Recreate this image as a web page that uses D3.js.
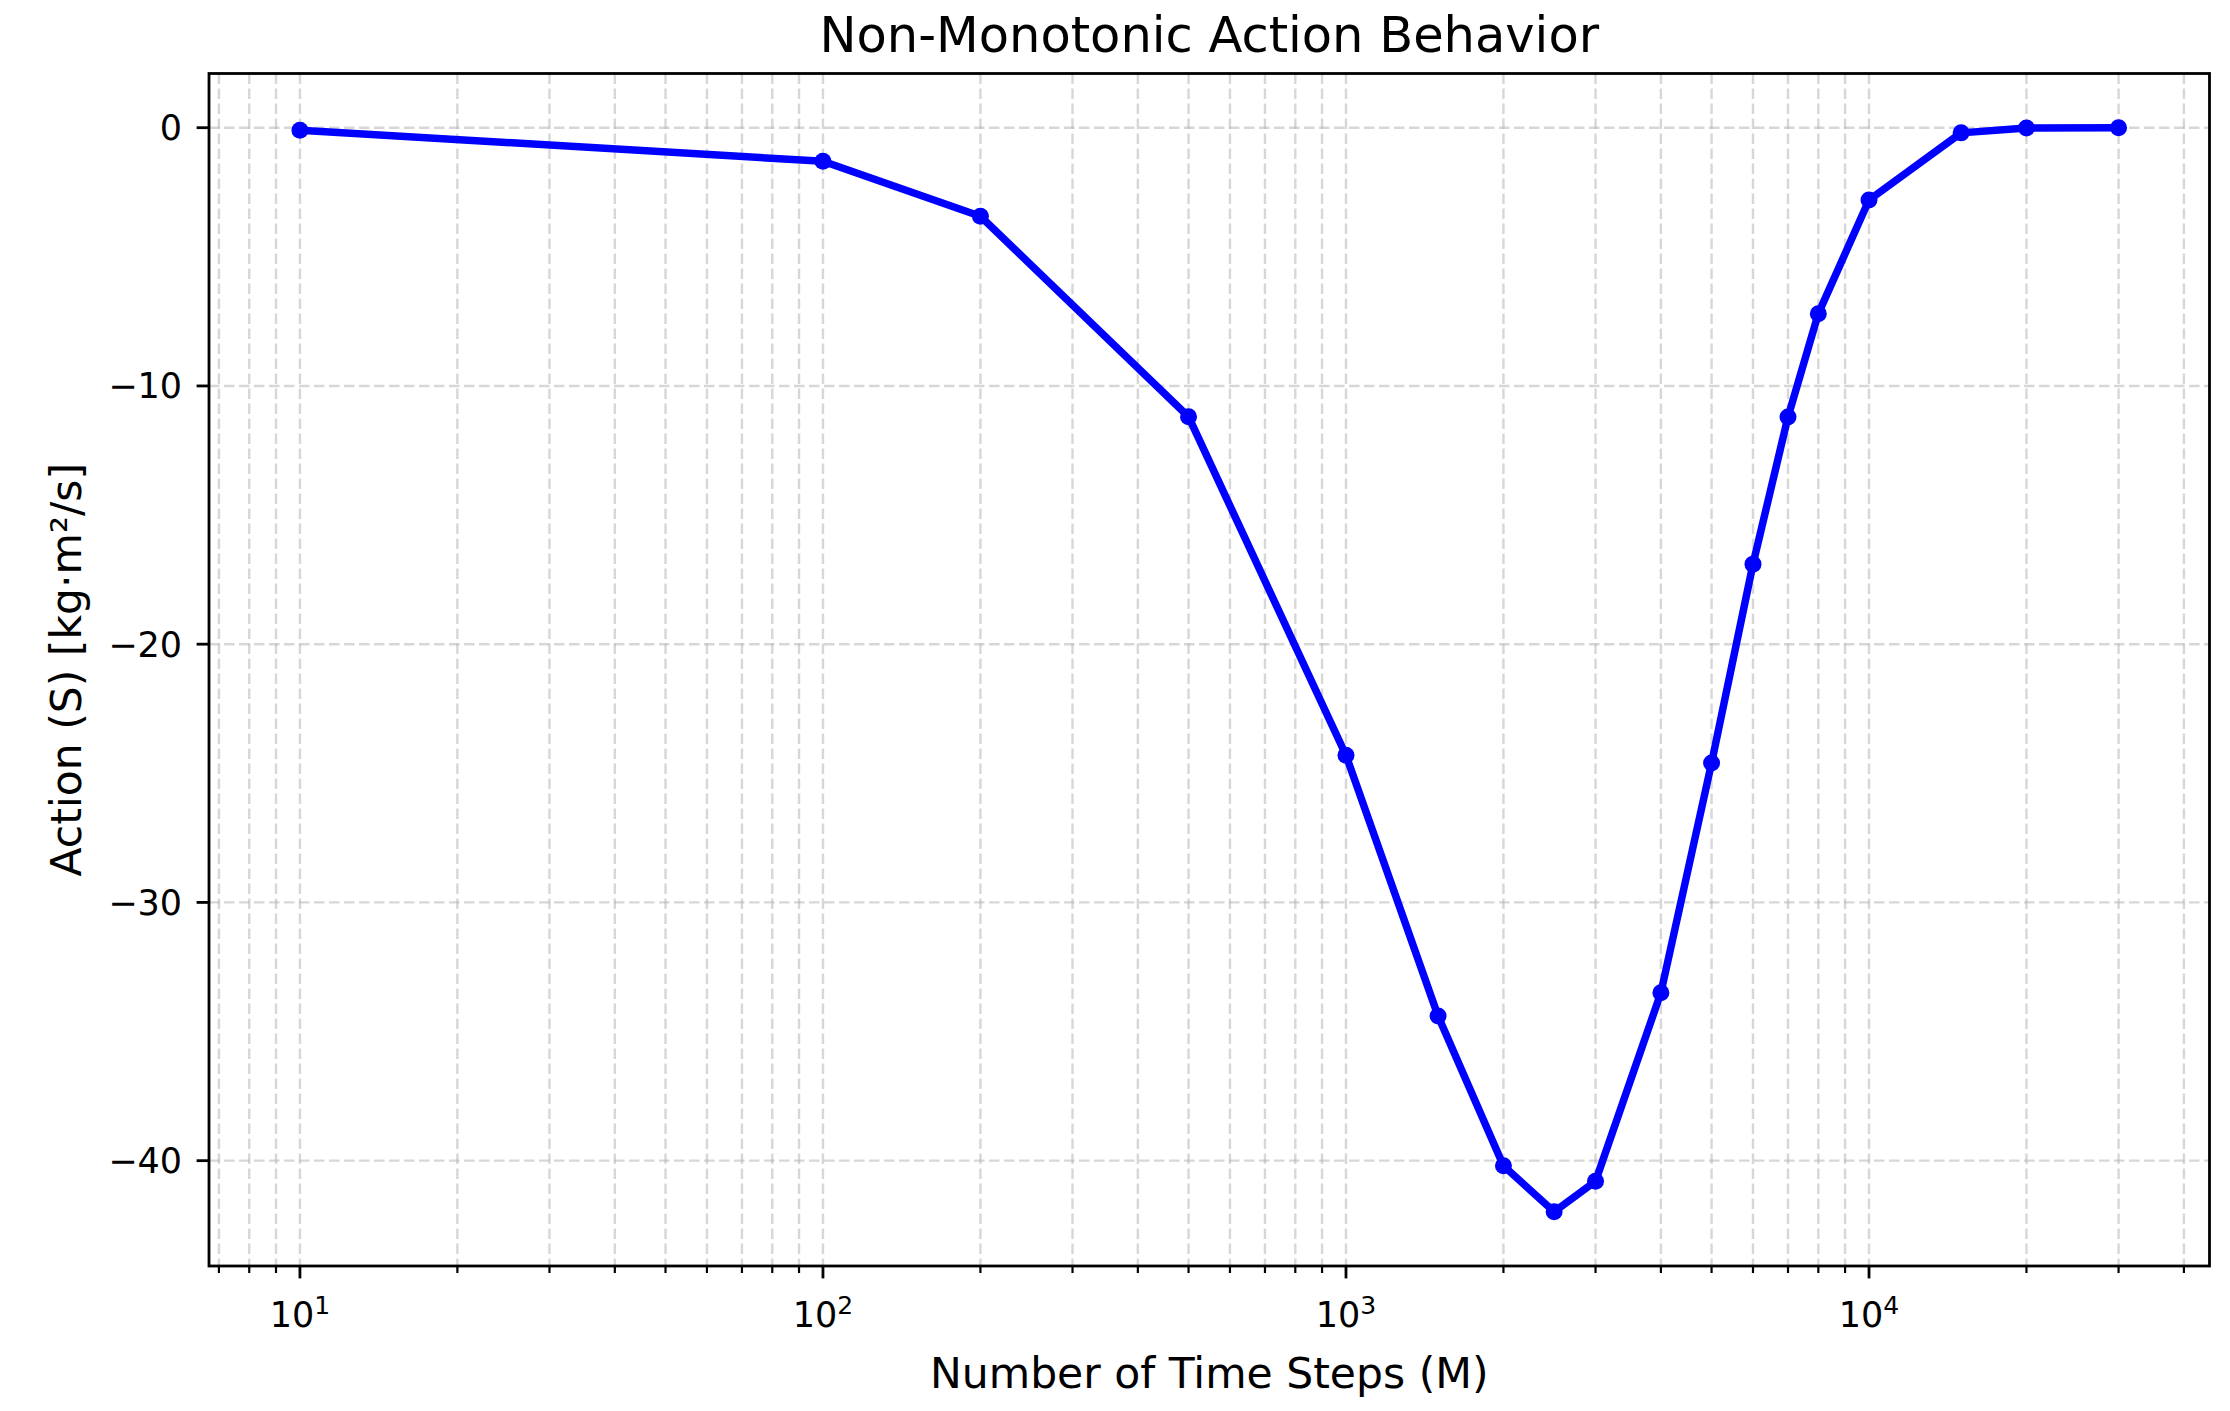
<!DOCTYPE html>
<html>
<head>
<meta charset="utf-8">
<script src="https://cdn.jsdelivr.net/npm/d3@7"></script>
<style>
  html, body { margin: 0; padding: 0; background: #fff; }
  svg { display: block; font-family: "DejaVu Sans", sans-serif; }
</style>
</head>
<body>
<svg id="chart" width="2230" height="1411"></svg>
<script>
// ---- data ----
const timeSteps = [10, 100, 200, 500, 1000, 1500, 2000, 2500, 3000, 4000, 5000, 6000, 7000, 8000, 10000, 15000, 20000, 30000];
const actionValues = [-0.1, -1.3, -3.43, -11.19, -24.3, -34.4, -40.2, -41.98, -40.8, -33.5, -24.6, -16.9, -11.2, -7.2, -2.8, -0.2, -0.01, 0.0];
const yTickValues = [0, -10, -20, -30, -40];
const xMajorExponents = [1, 2, 3, 4];
const titleText = "Non-Monotonic Action Behavior";
const xLabelText = "Number of Time Steps (M)";
const yLabelText = "Action (S) [kg·m²/s]";

// ---- layout ----
const W = 2230, H = 1411;
const m = { left: 209, top: 73.5, right: 2230 - 2209.5, bottom: 1411 - 1266 };
const iw = W - m.left - m.right, ih = H - m.top - m.bottom;

const svg = d3.select("#chart");
const g = svg.append("g").attr("transform", `translate(${m.left},${m.top})`);

// matplotlib-like 5% margins
const lx0 = Math.log10(d3.min(timeSteps)), lx1 = Math.log10(d3.max(timeSteps));
const px = (lx1 - lx0) * 0.05;
const x = d3.scaleLog().domain([Math.pow(10, lx0 - px), Math.pow(10, lx1 + px)]).range([0, iw]);
const y0 = d3.min(actionValues), y1 = d3.max(actionValues);
const py = (y1 - y0) * 0.05;
const y = d3.scaleLinear().domain([y0 - py, y1 + py]).range([ih, 0]);

// tick positions
const [dmin, dmax] = x.domain();
const minorTicks = [];
const majorTicks = xMajorExponents.map(e => Math.pow(10, e));
for (let e = 0; e <= 5; e++) {
  for (let k = 2; k <= 9; k++) {
    const v = k * Math.pow(10, e);
    if (v >= dmin && v <= dmax) minorTicks.push(v);
  }
}

// grid
const gridColor = "#b0b0b0";
const grid = g.append("g").attr("class", "grid");
grid.selectAll("line.vmin").data(minorTicks.concat(majorTicks)).join("line")
  .attr("x1", d => x(d)).attr("x2", d => x(d)).attr("y1", 0).attr("y2", ih)
  .attr("stroke", gridColor).attr("stroke-opacity", 0.5).attr("stroke-width", 2.4)
  .attr("stroke-dasharray", "10.5,4.5");
grid.selectAll("line.h").data(yTickValues).join("line")
  .attr("x1", 0).attr("x2", iw).attr("y1", d => y(d)).attr("y2", d => y(d))
  .attr("stroke", gridColor).attr("stroke-opacity", 0.5).attr("stroke-width", 2.4)
  .attr("stroke-dasharray", "10.5,4.5");

// line + markers
const line = d3.line().x((d, i) => x(timeSteps[i])).y(d => y(d));
g.append("path").datum(actionValues)
  .attr("d", line).attr("fill", "none").attr("stroke", "#0000ff")
  .attr("stroke-width", 7.5).attr("stroke-linejoin", "round").attr("stroke-linecap", "round");
g.selectAll("circle.pt").data(actionValues).join("circle")
  .attr("cx", (d, i) => x(timeSteps[i])).attr("cy", d => y(d)).attr("r", 8.5)
  .attr("fill", "#0000ff");

// axes frame
g.append("rect").attr("x", 0).attr("y", 0).attr("width", iw).attr("height", ih)
  .attr("fill", "none").attr("stroke", "#000").attr("stroke-width", 2.8);

// x axis ticks
const xAxisG = g.append("g").attr("transform", `translate(0,${ih})`);
xAxisG.selectAll("line.minor").data(minorTicks).join("line")
  .attr("x1", d => x(d)).attr("x2", d => x(d)).attr("y1", 0).attr("y2", 7)
  .attr("stroke", "#000").attr("stroke-width", 2.2);
xAxisG.selectAll("line.major").data(majorTicks).join("line")
  .attr("x1", d => x(d)).attr("x2", d => x(d)).attr("y1", 0).attr("y2", 12.4)
  .attr("stroke", "#000").attr("stroke-width", 2.8);
const xl = xAxisG.selectAll("text.xt").data(xMajorExponents).join("text")
  .attr("x", d => x(Math.pow(10, d))).attr("y", 61)
  .attr("text-anchor", "middle").attr("font-size", 35).attr("fill", "#000");
xl.append("tspan").text("10");
xl.append("tspan").attr("dy", -13).attr("font-size", 25).text(d => String(d));

// y axis ticks
const yAxisG = g.append("g");
yAxisG.selectAll("line.yt").data(yTickValues).join("line")
  .attr("x1", -12.4).attr("x2", 0).attr("y1", d => y(d)).attr("y2", d => y(d))
  .attr("stroke", "#000").attr("stroke-width", 2.8);
yAxisG.selectAll("text.yt").data(yTickValues).join("text")
  .attr("x", -27).attr("y", d => y(d) + 12.5)
  .attr("text-anchor", "end").attr("font-size", 35).attr("fill", "#000")
  .text(d => d < 0 ? "\u2212" + Math.abs(d) : String(d));

// title and labels
svg.append("text").attr("x", m.left + iw / 2).attr("y", 52)
  .attr("text-anchor", "middle").attr("font-size", 49.5).attr("fill", "#000").text(titleText);
svg.append("text").attr("x", m.left + iw / 2).attr("y", 1388)
  .attr("text-anchor", "middle").attr("font-size", 42.5).attr("fill", "#000").text(xLabelText);
svg.append("text").attr("transform", `translate(81,${m.top + ih / 2}) rotate(-90)`)
  .attr("text-anchor", "middle").attr("font-size", 42.5).attr("fill", "#000").text(yLabelText);
</script>
</body>
</html>
